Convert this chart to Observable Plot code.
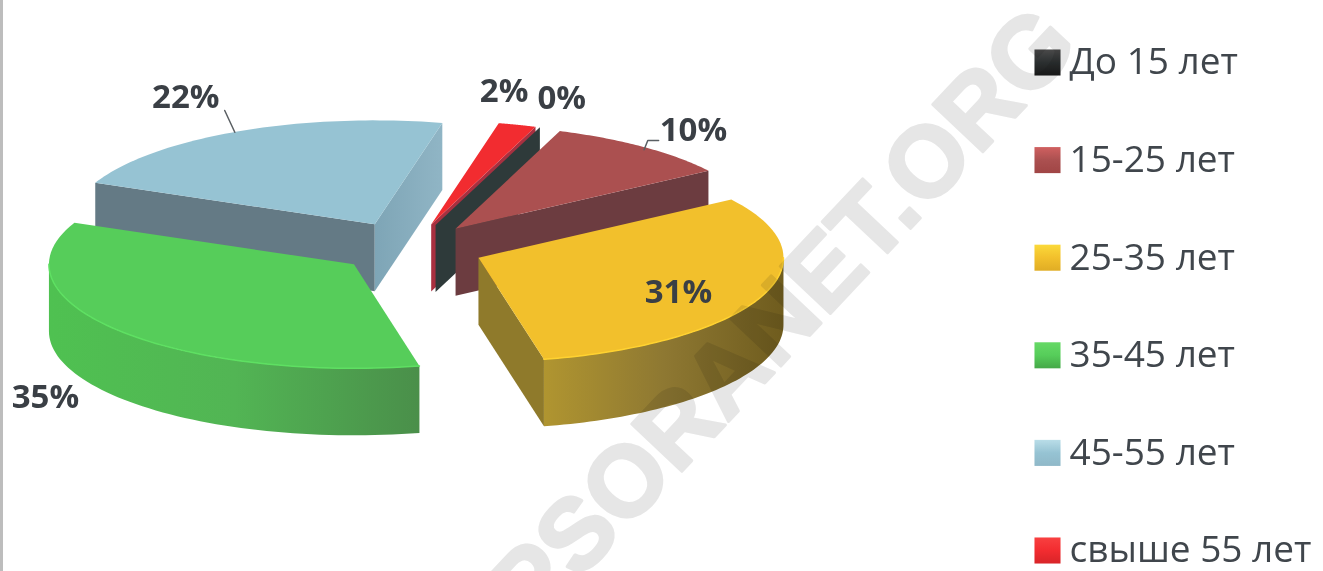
<!DOCTYPE html>
<html><head><meta charset="utf-8">
<script src="https://cdn.jsdelivr.net/npm/d3@7"></script>
<script src="https://cdn.jsdelivr.net/npm/@observablehq/plot@0.6"></script>
<style>html,body{margin:0;padding:0;background:#fff}svg{display:block;filter:blur(.5px)}</style>
</head><body><div id="chart"></div>
<script>
const categories = ["До 15 лет","15-25 лет","25-35 лет","35-45 лет","45-55 лет","свыше 55 лет"];
const shares = [0,10,31,35,22,2];
const shareLabels = ["0%","10%","31%","35%","22%","2%"];
const topColors = ["#2b2f30","#ab5050","#f2c02c","#56cd5a","#96c3d3","#f22c30"];
const legendLight = ["#4a4a4a","#d06060","#fbd93a","#66d966","#b9dde8","#f84040"];
const legendDark = ["#1a1a1a","#a04545","#e0ad25","#45a848","#8fb8c8","#d82428"];
const endWalls = [["#2e3a3a","#2e3a3a"],["#6c3c40","#6c3c40"],["#8f7a2b","#8f7a2b"],["#000","#000"],["#7ea5b6","#90b5c5"],["#a83040","#a83040"]];
const startWalls = [["#2b3636","#2b3636"],["#000","#000"],["#000","#000"],["#000","#000"],["#647a85","#647a85"],["#a83040","#a83040"]];
const outerWalls = [null,null,["#b09530","#8e7832","#6f5c1e"],["#4fc151","#52b554","#4a8f4a"],null,null];
const explosions = [.24,.24,.24,.24,.26,.24];
// polar position of each label and leader: [angle in degrees, radius as a share of the pie]
const labelPolar = [[18.8,1.284],[39.5,1.226],[117.2,.737],[218.3,1.632],[333.1,1.369],[10.6,1.30]];
const leaderPolar = [null,[[39.1,.98],[36.6,1.057],[38.1,1.079]],null,null,[[332.6,.997],[335.8,1.2]],null];

const W=1323,H=571;
const pie={cx:410,cy:248,rx:305,ry:104,depth:67,start:20};
const rad=d=>d*Math.PI/180;
const ends=Array.from(d3.cumsum(shares),v=>pie.start+v*3.6);
const slices=categories.map((c,i)=>{
  const a0=ends[i]-shares[i]*3.6,a1=ends[i],m=(a0+a1)/2;
  return {i,c,a0,a1,m,
    ax:pie.cx+explosions[i]*pie.rx*Math.sin(rad(m)),
    ay:pie.cy-explosions[i]*pie.ry*Math.cos(rad(m))};
});
const pt=(s,a,r=1,z=0)=>[s.ax+pie.rx*r*Math.sin(rad(a)),s.ay-pie.ry*r*Math.cos(rad(a))+z];
const arc=(s,a0,a1,z=0)=>d3.range(0,61).map(k=>pt(s,a0+(a1-a0)*k/60,1,z));
const poly=(pts,fill)=>Plot.line(pts,{x:d=>d[0],y:d=>d[1],fill,stroke:"none"});

function defs(){
  const d=d3.create("svg:defs");
  const grad=(id,stops,vert)=>{
    const g=d.append("linearGradient").attr("id",id).attr("x1",0).attr("y1",0)
      .attr("x2",vert?0:1).attr("y2",vert?1:0);
    stops.forEach((c,k)=>g.append("stop").attr("offset",k/(stops.length-1)).attr("stop-color",c));
  };
  categories.forEach((c,i)=>{
    grad("end"+i,endWalls[i]);grad("start"+i,startWalls[i]);
    if(outerWalls[i])grad("outer"+i,outerWalls[i]);
    grad("leg"+i,[legendLight[i],topColors[i],legendDark[i]],true);
  });
  return d.node();
}
const marks=[defs];
marks.push(Plot.ruleX([1],{stroke:"#bdbdbd",strokeWidth:3}));
// painter's order: back slices first; only faces turned towards the viewer are drawn
for(const i of [4,5,0,1,2,3]){
  const s=slices[i];
  const apex=pt(s,0,0);
  const wall=(a)=>{const e=pt(s,a);return [apex,e,[e[0],e[1]+pie.depth],[apex[0],apex[1]+pie.depth]];};
  if(Math.sin(rad(s.a0))<0)marks.push(poly(wall(s.a0),`url(#start${i})`));
  if(Math.sin(rad(s.a1))>0)marks.push(poly(wall(s.a1),`url(#end${i})`));
  const v0=Math.max(s.a0,90),v1=Math.min(s.a1,270);
  if(v1>v0&&outerWalls[i]){
    marks.push(poly([...arc(s,v0,v1),...arc(s,v1,v0,pie.depth)],`url(#outer${i})`));
  }
  if(shares[i]>0){
    marks.push(poly([apex,...arc(s,s.a0,s.a1)],topColors[i]));
    if(outerWalls[i])marks.push(Plot.line(arc(s,v0,v1),{x:d=>d[0],y:d=>d[1],stroke:d3.color(topColors[i]).brighter(.25).formatHex(),strokeWidth:1.5}));
  }
}
slices.forEach((s,i)=>{
  if(leaderPolar[i])marks.push(Plot.line(leaderPolar[i].map(([a,r])=>pt(s,a,r)),{x:d=>d[0],y:d=>d[1],stroke:"#5a5f63",strokeWidth:1.5}));
  const [a,r]=labelPolar[i],p=pt(s,a,r);
  marks.push(Plot.text([shareLabels[i]],{x:[p[0]],y:[p[1]],text:d=>d,fontSize:33,fontWeight:700,fontFamily:"Open Sans",fill:"#3a3f45",textAnchor:"middle",lineAnchor:"middle"}));
  const ly=62+97.6*i;
  marks.push(Plot.dot([i],{x:[1047],y:[ly],symbol:"square",r:14.7,fill:`url(#leg${i})`,stroke:"none"}));
  marks.push(Plot.text([s.c],{x:[1069],y:[ly],text:d=>d,fontSize:37,fontFamily:"Open Sans",fill:"#40464c",textAnchor:"start",lineAnchor:"middle"}));
});
marks.push(Plot.text(["PSORANET.ORG"],{x:[783],y:[316],text:d=>d,rotate:-46.7,fontSize:100,fontWeight:700,fontFamily:"Liberation Sans",fill:"#e6e6e6",stroke:"#e6e6e6",strokeWidth:3,textAnchor:"middle",lineAnchor:"middle",mixBlendMode:"multiply"}));
const chart=Plot.plot({width:W,height:H,margin:0,
  x:{domain:[0,W],range:[0,W],axis:null},
  y:{domain:[0,H],range:[0,H],axis:null},
  style:{background:"#fff"},marks});
document.getElementById("chart").append(chart);
</script></body></html>
